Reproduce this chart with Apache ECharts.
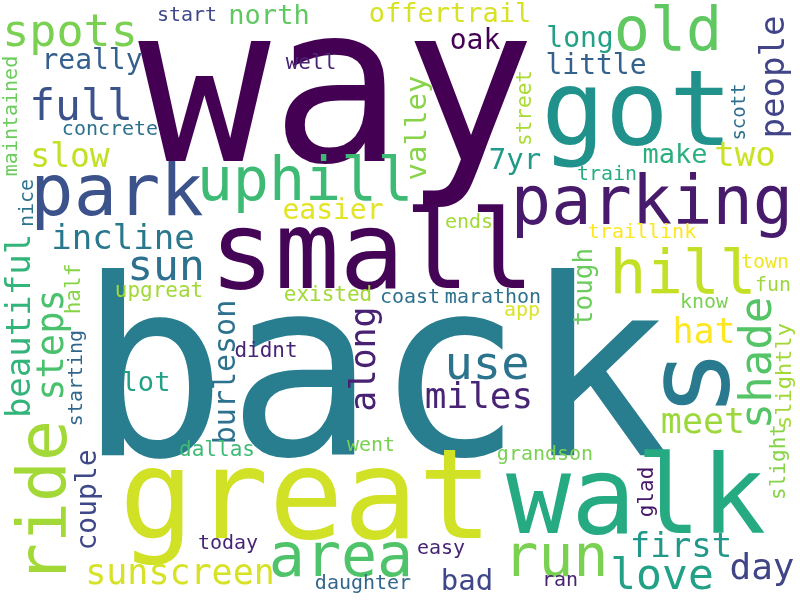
<!DOCTYPE html>
<html>
<head>
<meta charset="utf-8">
<script src="https://cdn.jsdelivr.net/npm/echarts@6/dist/echarts.min.js"></script>
<style>
  html, body { margin: 0; padding: 0; background: #fff; }
  #main { width: 800px; height: 600px; }
</style>
</head>
<body>
<div id="main"></div>
<script>
// words of the cloud and how heavy each one is (drawn font size)
var words = ['way','back','great','walk','small','got','park','parking','uphill','old',
  'hill','ride','s','run','area','use','spots','full','sun','love',
  'shade','miles','day','steps','along','sunscreen','hat','meet','beautiful','incline',
  'two','first','people','slow','burleson','7yr','valley','bad','really','little',
  'long','oak','couple','easier','north','offertrail','make','lot','tough','slightly',
  'well','street','half','upgreat','didnt','existed','dallas','slight','glad','start',
  'concrete','maintained','nice','starting','coast','marathon','app','traillink','town','fun',
  'know','ends','train','scott','went','grandson','today','easy','daughter','ran'];
var weights = [220,246,124,108,108,106,72,67,60,60,
  61,68,115,58,60,47,45,43,43,43,
  44,36,36,37,35,35,35,35,34,34,
  34,34,34,33,30,29,29,29,28,28,
  28,28,28,28,27,27,27,27,26,22,
  21,21,21,21,21,21,21,21,21,20,
  20,20,20,20,20,20,20,20,20,20,
  20,20,20,19,20,20,20,20,20,20];
// where the layout put each word (centre, in picture units) and whether it is turned
var layoutX = [337,375,306,636,372,637,117,652,305,668,
  683,48,698,556,341,487,70,81,166,662,
  760,479,762,53,366,180,704,703,21,123,
  745,681,775,70,227,515,418,467,92,596,
  580,475,89,333,269,450,675,146,585,785,
  311,526,75,159,266,328,217,780,648,187,
  110,12,28,77,410,493,522,642,765,773,
  704,469,607,740,371,545,228,441,363,560];
var layoutY = [104,391,506,505,260,117,196,207,184,34,
  277,502,383,561,560,367,34,109,269,578,
  363,399,570,345,359,575,334,424,326,240,
  157,548,77,158,372,161,128,582,62,67,
  40,42,500,212,17,15,156,384,287,376,
  64,108,289,292,352,296,451,462,492,16,
  130,116,203,378,298,298,311,233,263,286,
  303,223,175,112,446,455,544,549,584,581];
var turned = [0,0,0,0,0,0,0,0,0,0,
  0,1,1,0,0,0,0,0,0,0,
  1,0,0,1,1,0,0,0,1,0,
  0,0,1,0,1,0,1,0,0,0,
  0,0,1,0,0,0,0,0,1,1,
  0,1,1,0,0,0,0,1,1,0,
  0,1,1,1,0,0,0,0,0,0,
  0,0,0,1,0,0,0,0,0,0];
// position of each word's colour on the viridis ramp
var tones = [0.0,0.42,0.93,0.61,0.01,0.5,0.25,0.07,0.68,0.75,
  0.91,0.86,0.41,0.8,0.72,0.38,0.8,0.25,0.37,0.57,
  0.73,0.1,0.2,0.71,0.09,0.94,1.0,0.85,0.65,0.4,
  0.92,0.53,0.2,0.91,0.37,0.54,0.82,0.21,0.3,0.31,
  0.57,0.0,0.22,0.96,0.75,0.94,0.63,0.57,0.77,0.86,
  0.1,0.87,0.82,0.86,0.1,0.86,0.68,0.82,0.06,0.22,
  0.37,0.77,0.38,0.33,0.37,0.37,0.95,1.0,0.98,0.85,
  0.8,0.86,0.62,0.36,0.8,0.8,0.1,0.1,0.33,0.1];

var viridis = ['#440154','#482475','#414487','#355f8d','#2a788e','#21918c',
  '#22a884','#44bf70','#7ad151','#bddf26','#fde725'];

var myChart = echarts.init(document.getElementById('main'));

var cloud = words.map(function (w, i) {
  return {
    name: w,
    value: [layoutX[i], layoutY[i], tones[i]],
    label: { fontSize: weights[i], rotate: turned[i] ? 90 : 0 }
  };
});

var option = {
  backgroundColor: '#ffffff',
  animation: false,
  grid: { left: 0, right: 0, top: 0, bottom: 0 },
  xAxis: { type: 'value', min: 0, max: 800, show: false },
  yAxis: { type: 'value', min: 0, max: 600, inverse: true, show: false },
  visualMap: {
    show: false,
    type: 'continuous',
    dimension: 2,
    min: 0,
    max: 1,
    inRange: { color: viridis }
  },
  series: [{
    type: 'scatter',
    symbolSize: 0,
    silent: true,
    itemStyle: { opacity: 1 },
    data: cloud,
    label: {
      show: true,
      position: 'inside',
      formatter: '{b}',
      color: 'inherit',
      fontFamily: 'DejaVu Sans Mono',
      align: 'center',
      verticalAlign: 'middle'
    }
  }]
};
myChart.setOption(option);
</script>
</body>
</html>
